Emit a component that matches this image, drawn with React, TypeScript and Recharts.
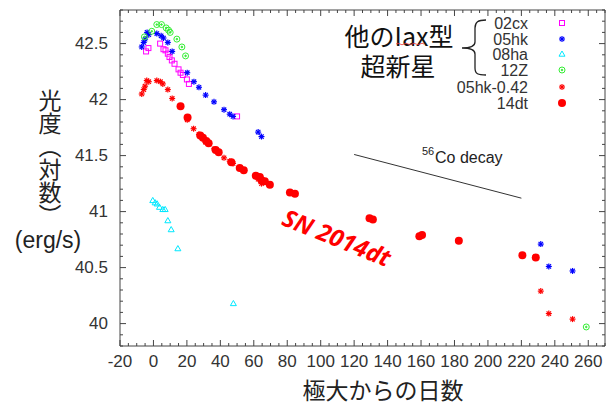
import React from "react";
import { ScatterChart, Scatter, XAxis, YAxis, ReferenceLine } from "recharts";

// days since maximum / log luminosity (erg/s)
const days02cx = [-4.4, -3.0, 4.0, 6.0, 7.2, 8.6, 9.6, 11.0, 12.6, 15.0, 16.2, 17.6, 20.0, 21.2, 50.0];
const lum02cx = [42.43, 42.46, 42.5, 42.45, 42.44, 42.41, 42.38, 42.35, 42.32, 42.27, 42.24, 42.22, 42.18, 42.14, 41.85];

const days05hk = [-7.0, -5.8, -5.0, -3.8, -2.8, 2.0, 4.6, 6.0, 8.6, 11.2, 20.2, 24.2, 27.2, 31.2, 36.2, 42.2, 45.6, 47.6, 62.6, 64.6, 231.6, 236.4, 250.6];
const lum05hk = [42.47, 42.51, 42.54, 42.6, 42.58, 42.59, 42.57, 42.55, 42.51, 42.43, 42.24, 42.16, 42.11, 42.04, 41.98, 41.91, 41.87, 41.85, 41.71, 41.67, 40.71, 40.51, 40.47];

const days08ha = [-0.4, 1.0, 2.2, 3.6, 5.6, 7.0, 8.6, 10.6, 14.6, 47.8];
const lum08ha = [41.1, 41.08, 41.07, 41.04, 41.02, 41.02, 40.92, 40.84, 40.67, 40.18];

const days12Z = [-5.4, -1.0, 2.0, 4.8, 7.6, 9.0, 10.0, 14.0, 17.0, 19.2, 258.8];
const lum12Z = [42.56, 42.61, 42.67, 42.67, 42.64, 42.62, 42.6, 42.54, 42.47, 42.39, 39.97];

const days05hkShift = [-7.0, -5.8, -5.0, -4.0, -2.8, 2.0, 4.2, 5.6, 8.6, 11.2, 20.2, 24.0, 27.2, 31.2, 36.2, 42.2, 45.6, 47.6, 62.6, 64.6, 231.6, 236.4, 250.6];
const lum05hkShift = [42.05, 42.09, 42.12, 42.17, 42.16, 42.17, 42.16, 42.14, 42.09, 42.01, 41.82, 41.74, 41.69, 41.62, 41.56, 41.48, 41.45, 41.43, 41.29, 41.25, 40.29, 40.09, 40.04];

const days14dt = [16.2, 20.4, 28.0, 29.6, 31.6, 33.0, 37.2, 39.0, 46.6, 51.6, 54.0, 61.2, 63.6, 64.6, 66.6, 69.6, 81.6, 84.6, 129.2, 131.2, 159.0, 160.6, 182.6, 220.6, 228.6];
const lum14dt = [41.94, 41.84, 41.68, 41.66, 41.63, 41.61, 41.55, 41.53, 41.44, 41.39, 41.37, 41.32, 41.31, 41.28, 41.27, 41.24, 41.17, 41.16, 40.94, 40.93, 40.78, 40.79, 40.74, 40.61, 40.59];

// 56Co decay slope guide
const coDecayDays = [120, 220];
const coDecayLum = [41.51, 41.12];

const xMajorTicks = [-20, 0, 20, 40, 60, 80, 100, 120, 140, 160, 180, 200, 220, 240, 260];
const yMajorTicks = [40, 40.5, 41, 41.5, 42, 42.5];
const xDomain = [-20, 270];
const yDomain = [39.8, 42.8];

const legendNames = ["02cx", "05hk", "08ha", "12Z", "05hk-0.42", "14dt"];

const toPoints = (xs: number[], ys: number[]) => xs.map((x, i) => ({ x, y: ys[i] }));

const xTicks: number[] = [];
for (let v = xDomain[0]; v <= xDomain[1]; v += 5) xTicks.push(v);
const yTicks: number[] = [];
for (let i = 0; i <= 30; i++) yTicks.push(Math.round((yDomain[0] + i * 0.1) * 10) / 10);

const isMajorY = (v: number) => yMajorTicks.some((m) => Math.abs(m - v) < 1e-6);

const FRAME = "#444";
const TICK_FONT = "'Liberation Sans', Arial, sans-serif";
const CJK_FONT = "'Noto Sans CJK JP', sans-serif";

const MAGENTA = "#f0f";
const BLUE = "#0000ff";
const CYAN = "#00e8ff";
const GREEN = "#33ee33";
const RED = "#ff0000";

// markers
const Square = ({ cx, cy, color = MAGENTA }: any) => (
  <rect x={cx - 2.5} y={cy - 2.5} width={5} height={5} fill="none" stroke={color} strokeWidth={1} />
);

const Asterisk = ({ cx, cy, color = BLUE }: any) => (
  <g stroke={color} strokeWidth={1.2}>
    <line x1={cx - 3} x2={cx + 3} y1={cy} y2={cy} />
    <line x1={cx} x2={cx} y1={cy - 3} y2={cy + 3} />
    <line x1={cx - 2.2} x2={cx + 2.2} y1={cy - 2.2} y2={cy + 2.2} />
    <line x1={cx - 2.2} x2={cx + 2.2} y1={cy + 2.2} y2={cy - 2.2} />
  </g>
);

const Triangle = ({ cx, cy, color = CYAN }: any) => (
  <path d={`M${cx},${cy - 3} L${cx + 3},${cy + 2.2} L${cx - 3},${cy + 2.2} Z`} fill="none" stroke={color} strokeWidth={1} />
);

const RingDot = ({ cx, cy, color = GREEN }: any) => (
  <g stroke={color} fill="none" strokeWidth={1}>
    <circle cx={cx} cy={cy} r={3} />
    <circle cx={cx} cy={cy} r={0.8} fill={color} />
  </g>
);

const BigDot = ({ cx, cy, color = RED }: any) => <circle cx={cx} cy={cy} r={4} fill={color} />;

// axis ticks drawn inward (gnuplot style)
const BottomTick = ({ x, y, payload }: any) => {
  const major = xMajorTicks.includes(payload.value);
  return (
    <g>
      <line x1={x} x2={x} y1={y} y2={y - (major ? 6 : 3)} stroke={FRAME} />
      {major && (
        <text x={x} y={y + 15} textAnchor="middle" dominantBaseline="central" fontSize={17} fontFamily={TICK_FONT} fill="#333">
          {payload.value}
        </text>
      )}
    </g>
  );
};

const TopTick = ({ x, y, payload }: any) => {
  const major = xMajorTicks.includes(payload.value);
  return <line x1={x} x2={x} y1={y} y2={y + (major ? 6 : 3)} stroke={FRAME} />;
};

const LeftTick = ({ x, y, payload }: any) => {
  const major = isMajorY(payload.value);
  return (
    <g>
      <line x1={x} x2={x + (major ? 6 : 3)} y1={y} y2={y} stroke={FRAME} />
      {major && (
        <text x={x - 12} y={y} textAnchor="end" dominantBaseline="central" fontSize={17} fontFamily={TICK_FONT} fill="#333">
          {payload.value}
        </text>
      )}
    </g>
  );
};

const RightTick = ({ x, y, payload }: any) => {
  const major = isMajorY(payload.value);
  return <line x1={x} x2={x - (major ? 6 : 3)} y1={y} y2={y} stroke={FRAME} />;
};

const legendMarkers = [Square, Asterisk, Triangle, RingDot, Asterisk, BigDot];
const legendColors = [MAGENTA, BLUE, CYAN, GREEN, RED, RED];
const legendRows = [23, 39, 54, 70, 87, 103];

const App: React.FC = () => {
  return (
    <div style={{ position: "absolute", left: 0, top: 0, width: 616, height: 405, background: "#fff" }}>
      <ScatterChart width={616} height={405} margin={{ top: 0, right: 0, bottom: 0, left: 0 }}>
        <XAxis
          type="number"
          dataKey="x"
          domain={xDomain}
          allowDataOverflow
          ticks={xTicks}
          interval={0}
          height={59}
          tickSize={0}
          tickMargin={0}
          tickLine={false}
          axisLine={{ stroke: FRAME }}
          tick={<BottomTick />}
        />
        <XAxis
          xAxisId="top"
          orientation="top"
          type="number"
          dataKey="x"
          domain={xDomain}
          allowDataOverflow
          ticks={xTicks}
          interval={0}
          height={10}
          tickSize={0}
          tickMargin={0}
          tickLine={false}
          axisLine={{ stroke: FRAME }}
          tick={<TopTick />}
        />
        <YAxis
          type="number"
          dataKey="y"
          domain={yDomain}
          allowDataOverflow
          ticks={yTicks}
          interval={0}
          width={120}
          tickSize={0}
          tickMargin={0}
          tickLine={false}
          axisLine={{ stroke: FRAME }}
          tick={<LeftTick />}
        />
        <YAxis
          yAxisId="right"
          orientation="right"
          type="number"
          dataKey="y"
          domain={yDomain}
          allowDataOverflow
          ticks={yTicks}
          interval={0}
          width={11}
          tickSize={0}
          tickMargin={0}
          tickLine={false}
          axisLine={{ stroke: FRAME }}
          tick={<RightTick />}
        />
        <ReferenceLine
          segment={[
            { x: coDecayDays[0], y: coDecayLum[0] },
            { x: coDecayDays[1], y: coDecayLum[1] },
          ]}
          stroke="#333"
          strokeWidth={1}
        />
        <Scatter name="02cx" data={toPoints(days02cx, lum02cx)} shape={<Square />} isAnimationActive={false} />
        <Scatter name="05hk" data={toPoints(days05hk, lum05hk)} shape={<Asterisk />} isAnimationActive={false} />
        <Scatter name="08ha" data={toPoints(days08ha, lum08ha)} shape={<Triangle />} isAnimationActive={false} />
        <Scatter name="12Z" data={toPoints(days12Z, lum12Z)} shape={<RingDot />} isAnimationActive={false} />
        <Scatter name="05hk-0.42" data={toPoints(days05hkShift, lum05hkShift)} shape={<Asterisk color={RED} />} isAnimationActive={false} />
        <Scatter name="14dt" data={toPoints(days14dt, lum14dt)} shape={<BigDot />} isAnimationActive={false} />
      </ScatterChart>

      {/* annotations, legend and axis titles */}
      <svg width={616} height={405} style={{ position: "absolute", left: 0, top: 0, pointerEvents: "none" }}>
        {/* y axis title, vertical Japanese writing */}
        <text x={50} y={89} fontSize={23} fontFamily={CJK_FONT} fill="#222" style={{ writingMode: "vertical-rl" }}>
          光度（対数）
        </text>
        <text x={48} y={240} fontSize={23} fontFamily={TICK_FONT} fill="#222" textAnchor="middle" dominantBaseline="central">
          (erg/s)
        </text>

        {/* x axis title */}
        <text x={383} y={389} fontSize={23} fontFamily={CJK_FONT} fill="#222" textAnchor="middle" dominantBaseline="central">
          極大からの日数
        </text>

        {/* group label with brace */}
        <text fontSize={25} fontFamily={CJK_FONT} fill="#111" textAnchor="middle" dominantBaseline="central">
          <tspan x={399} y={35}>他のIax型</tspan>
          <tspan x={398} y={65}>超新星</tspan>
        </text>
        <path d="M396,44 q2,-1.5 4,0 t4,0 t4,0 t4,0 t4,0 t4,0 t4,0" fill="none" stroke="#e33" strokeWidth={0.8} />
        <path
          d="M486,20 C478,20 475,22 475,28 L475,42 C475,46 472,48 462,48 C472,48 475,50 475,54 L475,68 C475,74 478,75 486,75"
          fill="none"
          stroke="#222"
          strokeWidth={1.3}
        />

        {/* legend */}
        <text fontSize={16} fontFamily={TICK_FONT} fill="#333" textAnchor="end" dominantBaseline="central">
          {legendNames.map((name, i) => (
            <tspan key={name} x={528} y={legendRows[i]}>
              {name}
            </tspan>
          ))}
        </text>
        {legendNames.map((name, i) => {
          const Marker = legendMarkers[i];
          return <Marker key={name} cx={562} cy={legendRows[i]} color={legendColors[i]} />;
        })}

        {/* 56Co decay label */}
        <text x={422} y={155} fontSize={11} fontFamily={TICK_FONT} fill="#222">56</text>
        <text x={435} y={163} fontSize={16} fontFamily={TICK_FONT} fill="#222">Co decay</text>

        {/* SN 2014dt */}
        <text
          x={337}
          y={237}
          transform="rotate(22 337 237)"
          fontSize={24}
          fontFamily="'Open Sans', sans-serif"
          fontWeight="bold"
          fontStyle="italic"
          fill={RED}
          textAnchor="middle"
          dominantBaseline="central"
        >
          SN 2014dt
        </text>
      </svg>
    </div>
  );
};

export default App;
